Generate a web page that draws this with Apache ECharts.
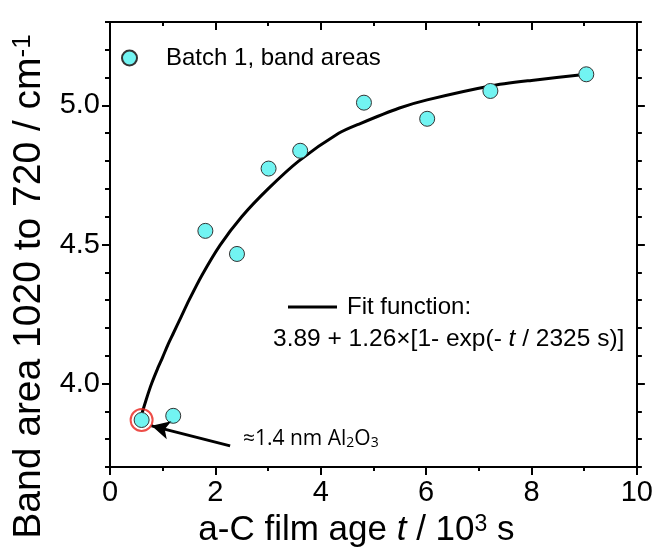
<!DOCTYPE html>
<html><head><meta charset="utf-8">
<script src="https://cdn.jsdelivr.net/npm/echarts@6/dist/echarts.min.js"></script>
<style>html,body{margin:0;padding:0;background:#fff}#c{width:656px;height:557px}</style>
</head><body><div id="c"></div>
<script>
// ---- data ----
const timeK = [0.60, 1.20, 1.81, 2.41, 3.01, 3.61, 4.82, 6.02, 7.22, 9.04];
const bandArea = [3.869, 3.884, 4.549, 4.466, 4.773, 4.837, 5.010, 4.952, 5.052, 5.112];
const fitT = [0.61, 0.70, 0.79, 0.90, 1.00, 1.10, 1.20, 1.35, 1.50, 1.74, 2.09, 2.50, 3.00, 3.58, 4.34, 4.75, 5.48, 6.02, 7.22, 8.00, 9.04];
const fitY = [3.895, 3.950, 4.000, 4.052, 4.095, 4.140, 4.180, 4.240, 4.300, 4.388, 4.498, 4.600, 4.700, 4.800, 4.900, 4.935, 4.990, 5.020, 5.070, 5.090, 5.112];
const highlightIndex = 0;
const arrowFrom = [2.28, 3.776];
const arrowTo = [0.79, 3.848];
const yMajorTicks = [4.0, 4.5, 5.0];
const yMinorTicks = [3.7, 3.8, 3.9, 4.0, 4.1, 4.2, 4.3, 4.4, 4.5, 4.6, 4.7, 4.8, 4.9, 5.0, 5.1, 5.2, 5.3];
const xTickLabels = [0, 2, 4, 6, 8, 10];
const seriesName = 'Batch 1, band areas';
const fitName = 'Fit function:';
const fitFormula = '3.89 + 1.26×[1- exp(- {i|t} / 2325 s)]';

const FONT = 'Liberation Sans';
const chart = echarts.init(document.getElementById('c'));
const pts = timeK.map((t, i) => [t, bandArea[i]]);
const fitPts = fitT.map((t, i) => [t, fitY[i]]);
const ls = () => ({color: '#000', width: 2});

function yAxisDef(pos, major, withLine, extra) {
  return Object.assign({
    type: 'value', min: 3.7, max: 5.3, position: pos,
    splitLine: {show: false},
    axisLine: {show: withLine, onZero: false, lineStyle: ls()},
    axisTick: {show: true, inside: false, length: major ? 8 : 5, lineStyle: ls(),
      customValues: major ? yMajorTicks : yMinorTicks},
    axisLabel: {show: false}
  }, extra || {});
}

const option = {
  animation: false,
  backgroundColor: '#fff',
  grid: {left: 110, right: 18.5, top: 22, bottom: 90, containLabel: false},
  legend: [
    {
      data: [seriesName], left: 116, top: 41, itemWidth: 15, itemHeight: 15,
      selectedMode: false,
      textStyle: {fontFamily: FONT, fontSize: 24, color: '#000', padding: [0, 0, 0, 24]}
    },
    {
      data: [{name: fitName, icon: 'rect'}], left: 283, top: 290, itemWidth: 49, itemHeight: 3,
      selectedMode: false,
      textStyle: {fontFamily: FONT, fontSize: 24, color: '#000', padding: [0, 0, 0, 5]}
    }
  ],
  xAxis: [
    {
      type: 'value', min: 0, max: 10, interval: 2, position: 'bottom',
      axisLine: {show: true, onZero: false, lineStyle: ls()},
      axisTick: {show: true, inside: false, length: 8, lineStyle: ls()},
      minorTick: {show: true, splitNumber: 2, length: 4, lineStyle: ls()},
      splitLine: {show: false}, minorSplitLine: {show: false},
      axisLabel: {fontFamily: FONT, fontSize: 29, color: '#000', margin: 11,
        formatter: v => xTickLabels.includes(Math.round(v)) ? String(Math.round(v)) : ''},
      name: 'a-C film age {i|t} / 10{sup|3} s',
      nameLocation: 'middle', nameGap: 46,
      nameTextStyle: {fontFamily: FONT, fontSize: 35, color: '#000', padding: [0, 34, 0, 0],
        rich: {
          i: {fontFamily: FONT, fontSize: 35, fontStyle: 'italic', color: '#000'},
          sup: {fontFamily: FONT, fontSize: 23, color: '#000', verticalAlign: 'top', lineHeight: 23}
        }}
    },
    {
      type: 'value', min: 0, max: 10, interval: 2, position: 'top',
      axisLine: {show: true, onZero: false, lineStyle: ls()},
      axisTick: {show: true, inside: true, length: 8, lineStyle: ls()},
      minorTick: {show: true, splitNumber: 2, length: 4, lineStyle: ls()},
      splitLine: {show: false}, axisLabel: {show: false}
    }
  ],
  yAxis: [
    yAxisDef('left', false, true, {
      axisLabel: {show: true, fontFamily: FONT, fontSize: 29, color: '#000', margin: 10,
        customValues: yMajorTicks, formatter: v => v.toFixed(1)},
      name: 'Band area 1020 to 720 / cm{sup|-1}',
      nameLocation: 'middle', nameRotate: 90, nameGap: 58,
      nameTextStyle: {fontFamily: FONT, fontSize: 39, color: '#000', padding: [0, 84, 0, 0],
        rich: {
          sup: {fontFamily: FONT, fontSize: 26, color: '#000', verticalAlign: 'top', lineHeight: 26}
        }}
    }),
    yAxisDef('left', true, false),
    yAxisDef('right', false, true),
    yAxisDef('right', true, false)
  ],
  series: [
    {
      name: fitName, type: 'line', data: fitPts, smooth: 0.25,
      symbol: 'none', lineStyle: {color: '#000', width: 3}, itemStyle: {color: '#000'},
      z: 2,
      markLine: {
        silent: true, symbol: ['none', 'arrow'], symbolSize: [14, 18],
        lineStyle: {color: '#000', width: 3, type: 'solid'},
        label: {show: false},
        data: [[{coord: arrowFrom}, {coord: arrowTo}]]
      }
    },
    {
      name: seriesName, type: 'scatter', data: pts, symbol: 'circle', symbolSize: 15,
      itemStyle: {color: '#72F4F2', borderColor: '#333', borderWidth: 1, opacity: 1},
      z: 3
    },
    {
      name: 'highlight', type: 'scatter', data: [pts[highlightIndex]], symbol: 'circle',
      symbolSize: 22,
      itemStyle: {color: 'rgba(0,0,0,0)', borderColor: '#E8201A', borderWidth: 2},
      z: 4
    }
  ],
  graphic: [
    {
      type: 'text', left: 273, top: 327,
      style: {
        text: fitFormula, fill: '#000', font: '24.5px "Liberation Sans"',
        rich: {i: {fontStyle: 'italic', fontFamily: FONT, fontSize: 24.5, fill: '#000'}}
      }
    },
    {
      type: 'text', left: 243, top: 429,
      style: {
        text: '≈1.4 nm Al{sub|2}O{sub|3}', fill: '#000', font: '21px "Open Sans"',
        rich: {sub: {fontFamily: 'Open Sans', fontSize: 14, fill: '#000', verticalAlign: 'bottom', lineHeight: 14}}
      }
    }
  ]
};
chart.setOption(option);
</script>
</body></html>
